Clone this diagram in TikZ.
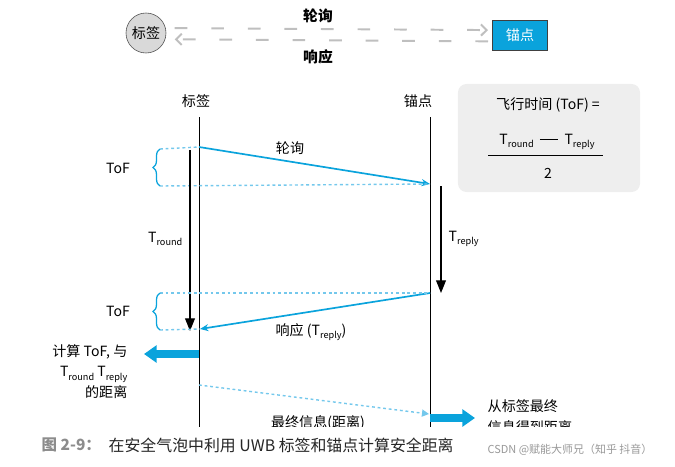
\documentclass[tikz,border=0pt]{standalone}
\usepackage{fontspec}
\setmainfont{Noto Sans CJK SC}
\usetikzlibrary{arrows.meta,decorations.pathreplacing,positioning}
\usepackage{xcolor}
\definecolor{uwb}{HTML}{0AA3DC}
\definecolor{dotblue}{HTML}{74C8EC}
\definecolor{panel}{HTML}{EEEEEE}
\newcommand{\sub}[1]{\raisebox{-0.45ex}{\fontsize{6.5}{7}\selectfont #1}}

\begin{document}
\begin{tikzpicture}[
  x=0.025cm, y=-0.025cm,
  every node/.style={font=\fontsize{10}{12}\selectfont, inner sep=1pt},
  tagdot/.style={circle, draw=black!70, fill=black!15, minimum size=1cm, inner sep=0pt},
  anchorbox/.style={draw=black!75, fill=uwb, text=white, minimum width=1.375cm, minimum height=0.75cm},
  radio/.style={draw=black!25, line width=1.4pt, dash pattern=on 9pt off 17pt, -{Straight Barb[length=4pt]}},
  life/.style={draw=black, line width=0.6pt},
  msg/.style={draw=uwb, line width=1.2pt, -{Stealth[length=6pt, width=5pt]}},
  dotline/.style={draw=dotblue, line width=1pt, dash pattern=on 2pt off 2pt},
  span/.style={draw=black, line width=0.8pt, -{Triangle[length=9pt, width=7pt]}},
  tofbrace/.style={draw=uwb, line width=0.9pt, decorate, decoration={brace, amplitude=5pt}},
  bigarr/.style={draw=uwb, line width=5pt, -{Triangle[length=9pt, width=12pt]}},
]
\useasboundingbox (0,0) rectangle (675,466);

%% Top: tag and anchor
\node[tagdot] (tagtop) at (146,33) {标签};
\node[anchorbox] (anctop) at (520,35) {锚点};
\draw[radio] ([yshift=3.5pt]tagtop.east) ++(6pt,0) -- ([yshift=3.5pt,xshift=-3pt]anctop.west);
\draw[radio] ([yshift=-4.5pt,xshift=-3pt]anctop.west) -- ([yshift=-4.5pt,xshift=6pt]tagtop.east);
\node[font=\fontsize{10.5}{12}\selectfont\bfseries] (polltop) at (318,16) {轮询};
\node[font=\fontsize{10.5}{12}\selectfont\bfseries] (resptop) at (318,57) {响应};

%% Lifelines
\node (taghead) at (196,101) {标签};
\node (anchead) at (418,101) {锚点};
\coordinate (tagline0) at (199,117);
\coordinate (tagline1) at (199,440);
\coordinate (ancline0) at (430,117);
\coordinate (ancline1) at (430,440);
\draw[life] (tagline0) -- (tagline1);
\draw[life] (ancline0) -- (ancline1);

%% Formula panel
\node[fill=panel, rounded corners=6pt, minimum width=4.55cm, minimum height=2.7cm] (panel) at (549,138) {};
\node (tofeq) at (548,105) {飞行时间 (ToF) =};
\node (numer) at (547,142) {T\sub{round}\ \ \rule[0.55ex]{1.3em}{0.7pt}\ \ T\sub{reply}};
\coordinate (frac0) at (488,155);
\coordinate (frac1) at (603,155);
\draw[line width=0.7pt] (frac0) -- (frac1);
\node (denom) at (548,173) {2};

%% Polling message
\coordinate (poll0) at (199,147);
\coordinate (poll1) at (430,184);
\draw[msg] (poll0) -- (poll1);
\node (polllab) at (290,148) {轮询};
\coordinate (tofa0) at (160,149);
\coordinate (tofa1) at (160,186);
\draw[dotline] (tofa0) -- (poll0);
\draw[dotline] (tofa1) -- (poll1);
\draw[tofbrace] (tofa1) -- (tofa0);
\node (tofa) at (118,168) {ToF};

%% Round and reply spans
\coordinate (round0) at (190,150);
\coordinate (round1) at (190,331);
\draw[span] (round0) -- (round1);
\node[anchor=east] (roundlab) at (184,239) {T\sub{round}};
\coordinate (reply0) at (441,186);
\coordinate (reply1) at (441,293);
\draw[span] (reply0) -- (reply1);
\node[anchor=west] (replylab) at (447,239) {T\sub{reply}};

%% Response message
\coordinate (resp0) at (430,293);
\coordinate (resp1) at (200,329);
\draw[msg] (resp0) -- (resp1);
\node (resplab) at (311,332) {响应 (T\sub{reply})};
\coordinate (tofb0) at (160,293);
\coordinate (tofb1) at (160,330);
\draw[dotline] (tofb0) -- (resp0);
\draw[dotline] (tofb1) -- (resp1);
\draw[tofbrace] (tofb1) -- (tofb0);
\node (tofb) at (118,311) {ToF};

%% Tag computes distance
\coordinate (calc0) at (199,354);
\coordinate (calc1) at (144,354);
\draw[bigarr] (calc0) -- (calc1);
\node[align=right, anchor=north east, font=\fontsize{10}{14.5}\selectfont] (calclab) at (129,343)
  {计算 ToF, 与\\T\sub{round} T\sub{reply}\\的距离};

%% Final message
\coordinate (fin0) at (199,385);
\coordinate (fin1) at (429,414);
\draw[dotline, -{Triangle[length=5pt, width=5pt]}] (fin0) -- (fin1);
\node (finlab) at (318,423) {最终信息(距离)};
\coordinate (out0) at (430,418);
\coordinate (out1) at (475,418);
\draw[bigarr] (out0) -- (out1);
\node[align=left, anchor=north west, font=\fontsize{10}{15}\selectfont] (outlab) at (486,398)
  {从标签最终\\信息得到距离};

%% Caption
\fill[white] (0,427) rectangle (675,466);
\node[anchor=west, text=black!45, font=\fontsize{11}{13}\selectfont\bfseries] (capnum) at (40,445) {图 2-9：};
\node[anchor=west, text=black!85, font=\fontsize{11.3}{13}\selectfont] (captext) at (107,445)
  {在安全气泡中利用 UWB 标签和锚点计算安全距离};
\node[anchor=west, text=black!40, font=\fontsize{7.8}{9}\selectfont] (credit) at (486,450)
  {CSDN @赋能大师兄（知乎 抖音）};

\end{tikzpicture}
\end{document}
